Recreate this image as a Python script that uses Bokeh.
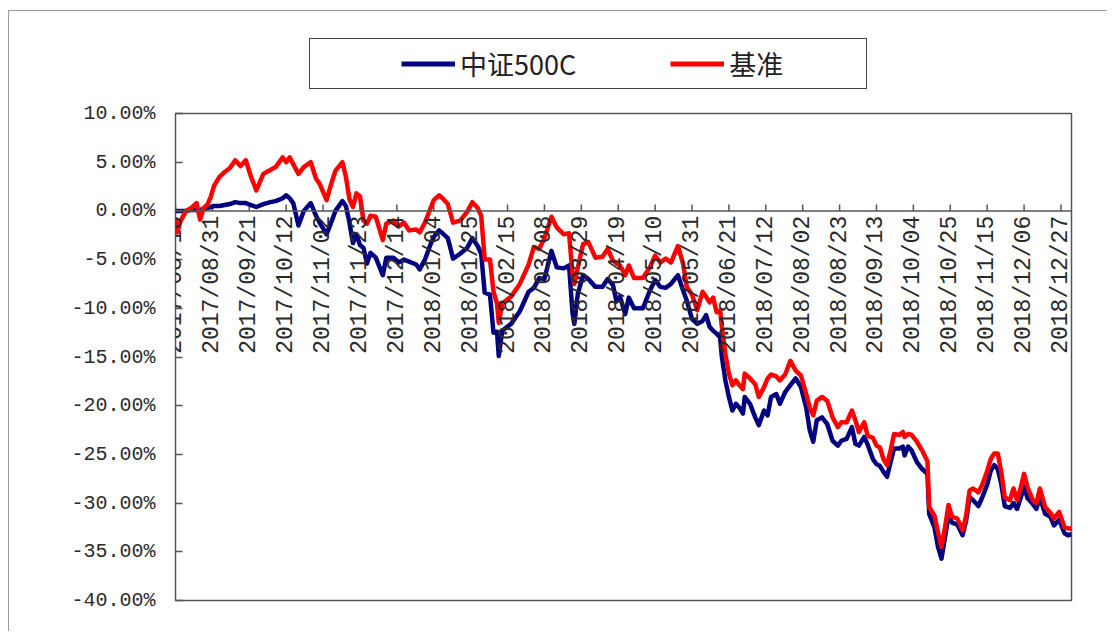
from math import pi
import pandas as pd
from bokeh.plotting import figure
from bokeh.layouts import column
from bokeh.core.properties import value
from bokeh.models import (Range1d, FixedTicker, Span, LabelSet, ColumnDataSource,
                          Legend, LegendItem)
from bokeh.embed import file_html
from bokeh.resources import INLINE

# ---------------- data ----------------
dates = [
    "2017-08-10", "2017-08-11", "2017-08-13", "2017-08-16", "2017-08-19", "2017-08-22",
    "2017-08-24", "2017-08-26", "2017-08-28", "2017-08-30",
    "2017-09-01", "2017-09-04", "2017-09-07", "2017-09-10", "2017-09-13", "2017-09-16",
    "2017-09-19", "2017-09-22", "2017-09-25", "2017-09-29",
    "2017-10-03", "2017-10-06", "2017-10-10", "2017-10-12", "2017-10-14", "2017-10-16",
    "2017-10-19", "2017-10-22", "2017-10-26", "2017-10-29", "2017-10-31",
    "2017-11-04", "2017-11-07", "2017-11-09", "2017-11-13", "2017-11-15", "2017-11-17",
    "2017-11-19", "2017-11-21", "2017-11-23", "2017-11-25", "2017-11-27", "2017-11-29",
    "2017-12-02", "2017-12-06", "2017-12-08", "2017-12-12", "2017-12-15", "2017-12-18",
    "2017-12-21", "2017-12-25", "2017-12-27", "2017-12-30",
    "2018-01-02", "2018-01-04", "2018-01-07", "2018-01-09", "2018-01-12", "2018-01-15",
    "2018-01-19", "2018-01-23", "2018-01-26", "2018-01-29", "2018-01-31",
    "2018-02-02", "2018-02-05", "2018-02-07", "2018-02-09", "2018-02-10", "2018-02-12",
    "2018-02-17", "2018-02-22", "2018-02-27",
    "2018-03-02", "2018-03-05", "2018-03-08", "2018-03-12", "2018-03-15", "2018-03-19",
    "2018-03-22", "2018-03-24", "2018-03-25", "2018-03-27", "2018-03-30",
    "2018-04-02", "2018-04-06", "2018-04-10", "2018-04-13", "2018-04-16", "2018-04-18",
    "2018-04-20", "2018-04-23", "2018-04-25", "2018-04-28",
    "2018-05-03", "2018-05-07", "2018-05-10", "2018-05-13", "2018-05-16", "2018-05-19",
    "2018-05-23", "2018-05-26", "2018-05-28", "2018-05-31",
    "2018-06-03", "2018-06-06", "2018-06-08", "2018-06-10", "2018-06-12", "2018-06-14",
    "2018-06-16", "2018-06-17", "2018-06-19", "2018-06-21", "2018-06-23", "2018-06-25",
    "2018-06-27", "2018-06-29", "2018-06-30",
    "2018-07-03", "2018-07-06", "2018-07-08", "2018-07-11", "2018-07-13", "2018-07-15",
    "2018-07-18", "2018-07-20", "2018-07-23", "2018-07-26", "2018-07-29",
    "2018-08-01", "2018-08-04", "2018-08-06", "2018-08-08", "2018-08-10", "2018-08-13",
    "2018-08-16", "2018-08-19", "2018-08-22", "2018-08-24", "2018-08-27", "2018-08-30",
    "2018-09-01", "2018-09-03", "2018-09-06", "2018-09-08", "2018-09-11", "2018-09-13",
    "2018-09-15", "2018-09-17", "2018-09-19", "2018-09-21", "2018-09-23", "2018-09-26",
    "2018-09-28", "2018-09-29",
    "2018-10-01", "2018-10-03", "2018-10-06", "2018-10-09", "2018-10-12", "2018-10-13",
    "2018-10-16", "2018-10-18", "2018-10-20", "2018-10-22", "2018-10-24", "2018-10-26",
    "2018-10-29",
    "2018-11-01", "2018-11-03", "2018-11-05", "2018-11-07", "2018-11-10", "2018-11-12",
    "2018-11-15", "2018-11-17", "2018-11-19", "2018-11-21", "2018-11-23", "2018-11-25",
    "2018-11-28", "2018-11-30",
    "2018-12-02", "2018-12-04", "2018-12-06", "2018-12-08", "2018-12-11", "2018-12-13",
    "2018-12-15", "2018-12-18", "2018-12-21", "2018-12-23", "2018-12-26", "2018-12-29",
    "2018-12-31", "2019-01-02",
]

# 中证500C (percent)
csi500c = [
    0.0, 0.0, 0.0, 0.0, 0.1, 0.1, 0.1, 0.2, 0.3, 0.4,
    0.5, 0.5, 0.6, 0.7, 0.9, 0.8, 0.8, 0.6, 0.4, 0.7,
    0.9, 1.0, 1.3, 1.6, 1.3, 0.8, -1.5, 0.0, 0.8, -0.5, -1.2,
    -2.4, -1.0, 0.0, 1.0, 0.5, -1.2, -3.3, -2.4, -3.5, -3.8, -5.4, -4.3,
    -4.8, -6.6, -4.8, -4.8, -5.3, -5.0, -5.2, -5.5, -6.0, -5.0,
    -3.5, -2.7, -2.0, -2.3, -2.8, -4.9, -4.4, -3.8, -2.8, -3.6, -4.4,
    -8.4, -8.6, -12.5, -12.4, -14.9, -12.3, -11.6, -10.3, -8.3,
    -7.9, -6.9, -7.0, -4.1, -5.8, -5.9, -5.6, -10.5, -11.6, -8.5, -6.6,
    -7.0, -7.8, -7.8, -7.0, -7.6, -9.3, -8.8, -10.6, -8.9, -10.0,
    -10.0, -8.2, -7.1, -7.8, -7.9, -7.5, -6.6, -8.2, -9.2, -11.1,
    -11.6, -11.3, -10.7, -11.9, -12.3, -12.6, -13.0, -15.0, -17.4, -19.1, -20.5, -19.8,
    -20.2, -20.8, -19.1,
    -19.8, -21.2, -22.0, -20.5, -21.0, -19.1, -18.8, -19.8, -18.6, -17.9, -17.2,
    -18.1, -20.2, -22.5, -23.7, -21.5, -21.2, -21.9, -23.6, -24.1, -23.6, -23.4, -22.2,
    -23.9, -24.1, -23.2, -24.0, -25.5, -26.0, -26.2, -26.8, -27.3, -25.8, -24.4, -24.4,
    -24.2, -25.1,
    -24.2, -24.6, -25.8, -26.5, -27.0, -31.1, -32.5, -34.5, -35.7, -33.5, -31.3, -32.0,
    -32.2,
    -33.3, -31.8, -29.4, -29.7, -30.3, -29.5, -28.1, -26.7, -26.1, -26.5, -28.0, -30.3,
    -30.5, -30.0,
    -30.6, -29.5, -28.3, -29.5, -30.1, -30.6, -29.4, -31.1, -31.4, -32.3, -31.7, -33.1,
    -33.3, -33.2,
]

# 基准 (percent)
benchmark = [
    -0.8, -2.2, -1.0, 0.0, 0.3, 0.8, -0.9, 0.3, 0.6, 1.4,
    2.6, 3.5, 4.0, 4.4, 5.2, 4.6, 5.2, 3.5, 2.1, 3.8,
    4.2, 4.5, 5.5, 5.0, 5.5, 4.8, 3.8, 4.5, 5.0, 3.3, 2.8,
    1.1, 3.0, 4.1, 5.0, 3.5, 1.2, 0.4, 1.8, 1.5, -1.0, -1.3, -0.5,
    -0.6, -3.0, -1.3, -1.0, -1.6, -1.2, -2.0, -1.9, -2.2, -1.2,
    0.2, 1.1, 1.6, 1.3, 0.7, -1.2, -1.0, -0.1, 0.9, 0.3, -0.5,
    -5.0, -5.0, -8.3, -9.5, -11.5, -9.5, -8.8, -7.5, -5.5,
    -3.7, -3.9, -2.8, -0.6, -1.7, -2.4, -2.3, -6.5, -7.5, -5.8, -3.4,
    -3.2, -4.8, -4.7, -3.9, -5.1, -5.4, -5.6, -6.6, -5.6, -6.9,
    -6.9, -5.8, -4.6, -5.3, -4.9, -5.3, -3.6, -5.5, -7.8, -8.6,
    -10.2, -8.3, -8.8, -9.4, -8.9, -10.4, -10.2, -11.9, -14.7, -16.7, -17.9, -17.4,
    -17.9, -18.3, -16.7,
    -17.2, -17.8, -19.1, -18.1, -17.2, -16.8, -17.0, -17.4, -16.8, -15.4, -16.4,
    -16.9, -18.8, -20.2, -21.0, -19.5, -19.1, -19.5, -21.2, -22.2, -21.7, -21.7, -20.5,
    -21.5, -22.7, -21.7, -23.1, -23.3, -24.1, -24.3, -25.5, -26.1, -24.6, -22.9, -23.0,
    -22.7, -23.2,
    -22.9, -23.0, -23.7, -24.6, -25.7, -30.4, -31.3, -33.0, -34.5, -32.5, -30.2, -31.4,
    -31.6,
    -32.8, -31.3, -28.7, -28.5, -28.9, -28.2, -26.7, -25.5, -24.9, -24.9, -26.8, -29.4,
    -29.7, -28.5,
    -29.7, -28.5, -27.0, -28.4, -29.7, -30.0, -28.5, -30.4, -31.0, -31.6, -30.9, -32.5,
    -32.6, -32.6,
]

x_tick_labels = [
    "2017/08/10", "2017/08/31", "2017/09/21", "2017/10/12", "2017/11/02",
    "2017/11/23", "2017/12/14", "2018/01/04", "2018/01/25", "2018/02/15",
    "2018/03/08", "2018/03/29", "2018/04/19", "2018/05/10", "2018/05/31",
    "2018/06/21", "2018/07/12", "2018/08/02", "2018/08/23", "2018/09/13",
    "2018/10/04", "2018/10/25", "2018/11/15", "2018/12/06", "2018/12/27",
]

y_ticks = [10, 5, 0, -5, -10, -15, -20, -25, -30, -35, -40]
y_tick_labels = ["10.00%", "5.00%", "0.00%", "-5.00%", "-10.00%", "-15.00%",
                 "-20.00%", "-25.00%", "-30.00%", "-35.00%", "-40.00%"]

series_names = ["中证500C", "基准"]
series_colors = ["#000080", "#FF0000"]

# ---------------- main chart ----------------
x = pd.to_datetime(dates)
xt = pd.to_datetime(x_tick_labels, format="%Y/%m/%d")

p = figure(width=1098, height=530, output_backend="svg", toolbar_location=None,
           x_axis_type="datetime", x_axis_location=None,
           x_range=Range1d(x[0], x[-1]), y_range=Range1d(-40, 10),
           min_border_left=166, min_border_top=12,
           min_border_right=36, min_border_bottom=31)
p.xgrid.visible = False
p.ygrid.visible = False
p.outline_line_color = "#555555"
p.outline_line_width = 1.5
p.outline_line_alpha = 1

yax = p.yaxis[0]
yax.ticker = FixedTicker(ticks=y_ticks)
yax.major_label_overrides = dict(zip(y_ticks, y_tick_labels))
yax.axis_line_color = None
yax.major_tick_in = 7
yax.major_tick_out = 0
yax.major_tick_line_color = "#555555"
yax.major_tick_line_width = 1.5
yax.minor_tick_line_color = None
yax.major_label_standoff = 20
yax.major_label_text_font = "Liberation Mono"
yax.major_label_text_font_size = "20px"
yax.major_label_text_color = "#2a2a2a"

# date axis drawn at the zero line
p.add_layout(Span(location=0, dimension="width", line_color="#555555", line_width=1.5))
p.segment(x0=xt, y0=[0] * len(xt), x1=xt, y1=[0.65] * len(xt),
          line_color="#555555", line_width=1.5)
lab_src = ColumnDataSource(dict(x=xt, y=[-0.5] * len(xt), text=x_tick_labels))
p.add_layout(LabelSet(x="x", y="y", text="text", source=lab_src, angle=pi / 2,
                      text_align="right", text_baseline="middle",
                      text_font=value("Liberation Mono"),
                      text_font_size=value("23px"),
                      text_color="#2a2a2a"))

p.line(x, csi500c, line_color=series_colors[0], line_width=4.5, line_join="round")
p.line(x, benchmark, line_color=series_colors[1], line_width=4.5, line_join="round")

# ---------------- legend strip above the chart ----------------
# same series, drawn outside this strip's visible range: only the legend shows
lg = figure(width=1098, height=90, output_backend="svg", toolbar_location=None,
            x_axis_type="datetime", x_axis_location=None, y_axis_location=None,
            x_range=Range1d(x[0], x[-1]), y_range=Range1d(1000, 1001), min_border=0)
lg.outline_line_color = None
lg.xgrid.visible = False
lg.ygrid.visible = False
k_gap = lg.line(x, csi500c, line_alpha=0)
k_blue = lg.line(x, csi500c, line_color=series_colors[0], line_width=5)
k_red = lg.line(x, benchmark, line_color=series_colors[1], line_width=5)

legend = Legend(items=[LegendItem(label="", renderers=[k_gap]),
                       LegendItem(label=series_names[0] + "\u3000\u3000\u3000 ", renderers=[k_blue]),
                       LegendItem(label=series_names[1] + "\u3000\u3000    ", renderers=[k_red])],
                orientation="horizontal", location=(134, 12),
                padding=5, spacing=7,
                glyph_width=54, glyph_height=29, label_height=29, label_standoff=5,
                border_line_color="#444444", border_line_width=1.5, border_line_alpha=1,
                background_fill_color="white", background_fill_alpha=1,
                label_text_font="Noto Sans CJK SC", label_text_font_size="27px",
                label_text_color="#222222")
lg.add_layout(legend)

lay = column(lg, p, spacing=0, margin=(10, 0, 0, 8))
lay.stylesheets = [":host { border-top: 1.5px solid #9a9a9a; border-left: 1.5px solid #9a9a9a; }"]

open("out.html", "w").write(file_html(lay, INLINE))
